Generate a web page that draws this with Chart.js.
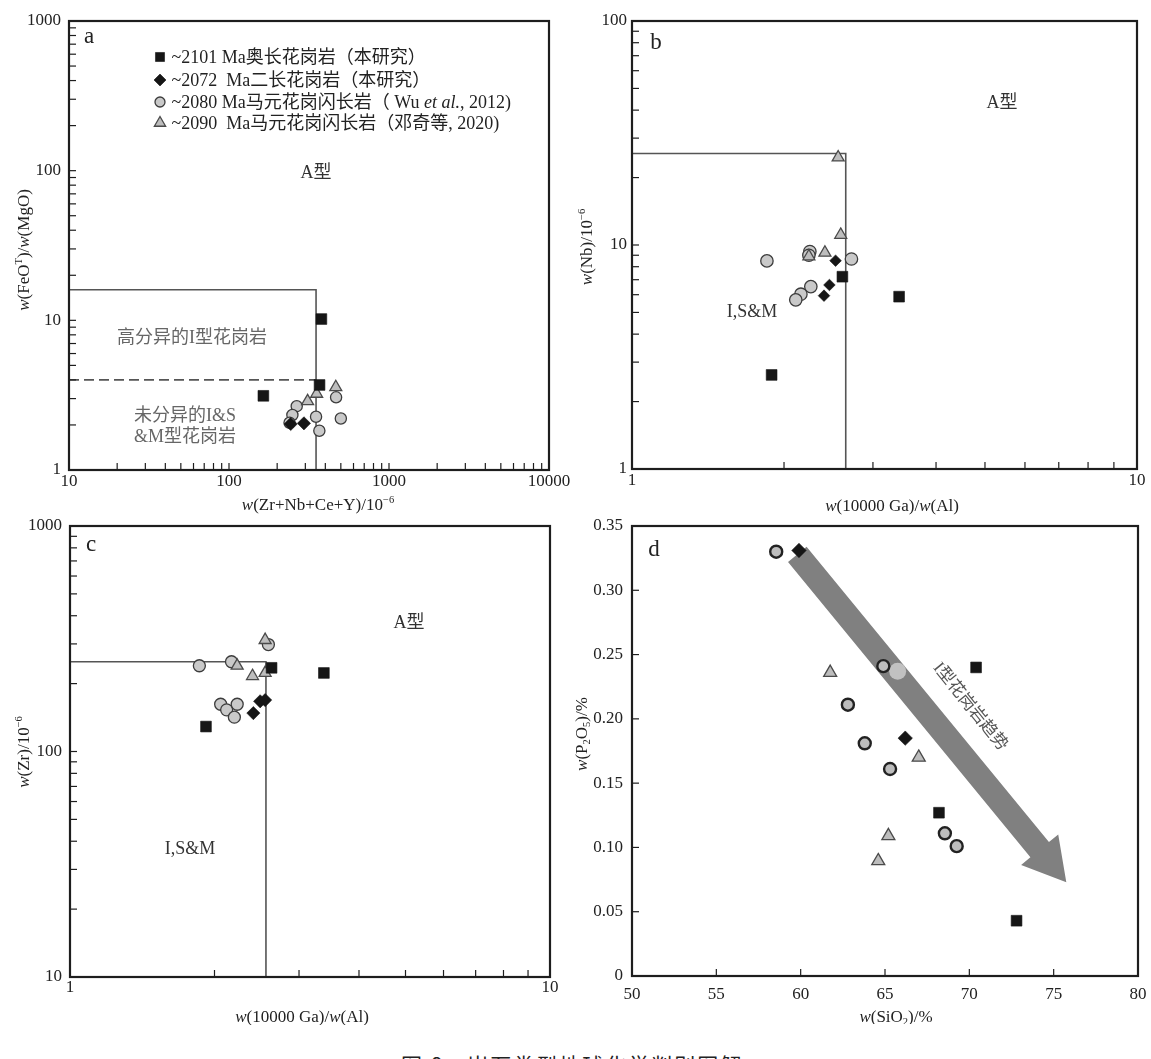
<!DOCTYPE html>
<html>
<head>
<meta charset="utf-8">
<script src="https://cdn.jsdelivr.net/npm/chart.js@4.4.1/dist/chart.umd.min.js"></script>
<style>
  html, body { margin: 0; padding: 0; background: #fff; width: 1151px; height: 1059px; overflow: hidden; }
  .panel { position: absolute; }
  #caption { position: absolute; left: 401px; top: 1054px; font: 21px 'Noto Sans CJK SC', sans-serif; line-height: 21px; letter-spacing: 2px; color: #222; white-space: pre; }
</style>
</head>
<body>
<div id="caption">图 8　岩石类型地球化学判别图解</div>
<script>
// ---- data ----
// a: w(Zr+Nb+Ce+Y) vs w(FeOT)/w(MgO)
const aSquares = [[378, 10.2], [368, 3.7], [164, 3.13]];
const aDiamonds = [[243, 2.03], [294, 2.05]];
const aCircles = [[265, 2.67], [249, 2.33], [239, 2.07], [350, 2.27], [367, 1.83], [467, 3.06], [500, 2.21]];
const aTriangles = [[465, 3.58], [353, 3.23], [310, 2.88]];
const aBox = [[10, 16], [350, 16], [350, 1]];
const aDash = [[10, 4], [350, 4]];
const aXLabels = [10, 100, 1000, 10000];
const aYLabels = [1, 10, 100, 1000];

// b: 10000Ga/Al vs Nb
const bSquares = [[2.61, 7.22], [3.38, 5.88], [1.89, 2.63]];
const bDiamonds = [[2.53, 8.51], [2.46, 6.63], [2.40, 5.94]];
const bCircles = [[1.85, 8.49], [2.25, 9.35], [2.24, 9.0], [2.72, 8.66], [2.26, 6.52], [2.16, 6.03], [2.11, 5.69]];
const bTriangles = [[2.56, 24.6], [2.59, 11.1], [2.24, 8.9], [2.41, 9.24]];
const bBox = [[1, 25.6], [2.65, 25.6], [2.65, 1]];
const bXLabels = [1, 10];
const bYLabels = [1, 10, 100];

// c: 10000Ga/Al vs Zr
const cSquares = [[2.63, 235], [3.38, 223], [1.92, 129]];
const cDiamonds = [[2.41, 148], [2.49, 167], [2.55, 169]];
const cCircles = [[2.59, 298], [1.86, 240], [2.17, 250], [2.06, 162], [2.12, 153], [2.23, 162], [2.20, 142]];
const cTriangles = [[2.55, 312], [2.23, 240], [2.40, 216], [2.55, 223]];
const cBox = [[1, 250], [2.56, 250], [2.56, 10]];
const cXLabels = [1, 10];
const cYLabels = [10, 100, 1000];

// d: SiO2 vs P2O5
const dSquares = [[70.4, 0.240], [68.2, 0.127], [72.8, 0.043]];
const dDiamonds = [[59.9, 0.331], [66.2, 0.185]];
const dCircles = [[58.55, 0.330], [64.9, 0.241], [62.8, 0.211], [63.8, 0.181], [65.3, 0.161], [68.55, 0.111], [69.25, 0.101]];
const dTriangles = [[61.75, 0.236], [67.0, 0.170], [65.2, 0.109], [64.6, 0.0895]];
const dFaint = [[65.75, 0.237]];
const dArrow = [[59.8, 0.328], [75.75, 0.073]];
const dXTicks = [50, 55, 60, 65, 70, 75, 80];
const dYTicks = [0, 0.05, 0.10, 0.15, 0.20, 0.25, 0.30, 0.35];

const legendRows = [
  { text: '~2101 Ma奥长花岗岩（本研究）', mark: 'sq' },
  { text: '~2072  Ma二长花岗岩（本研究）', mark: 'dm' },
  { text: '~2080 Ma马元花岗闪长岩（ Wu {i:et al.}, 2012)', mark: 'ci' },
  { text: '~2090  Ma马元花岗闪长岩（邓奇等, 2020)', mark: 'tr' }
];

// ---- styling ----
const SERIF = "'Liberation Serif', 'Noto Sans CJK SC', serif";
const YW = 62, PT = 24, XH = 48;

const STYLE = {
  sq: { pointStyle: 'rect', pointRadius: 7.6, backgroundColor: '#161616', borderColor: '#161616', borderWidth: 0.6 },
  dm: { pointStyle: 'rectRot', pointRadius: 6.6, backgroundColor: '#161616', borderColor: '#161616', borderWidth: 0.6 },
  ci: { pointStyle: 'circle', pointRadius: 5.8, backgroundColor: '#c9c9c9', borderColor: '#3c3c3c', borderWidth: 1.3 },
  tr: { pointStyle: 'triangle', pointRadius: 6.9, backgroundColor: '#bdbdbd', borderColor: '#4a4a4a', borderWidth: 1.3 }
};

const pts = arr => arr.map(([x, y]) => ({ x, y }));
const set = (data, style, extra) => Object.assign({ data: pts(data), showLine: false }, style, extra || {});
const line = (data, dash) => ({ data: pts(data), showLine: true, pointRadius: 0, borderColor: '#555', borderWidth: 1.6, borderDash: dash || [], fill: false, tension: 0 });

function logTicks(decades) {
  const out = [];
  for (let i = 0; i < decades.length; i++) {
    out.push(decades[i]);
    if (i < decades.length - 1) for (let k = 2; k <= 9; k++) out.push(decades[i] * k);
  }
  return out;
}

function logAxis(labels, pad, isX) {
  return {
    type: 'logarithmic', min: labels[0], max: labels[labels.length - 1],
    afterBuildTicks: ax => { ax.ticks = logTicks(labels).map(v => ({ value: v })); },
    afterFit: ax => { if (isX) ax.height = XH; else ax.width = YW; },
    grid: { display: false, drawTicks: false }, border: { display: false },
    ticks: { autoSkip: false, maxRotation: 0, minRotation: 0, padding: pad, color: '#222',
      font: { family: SERIF, size: 17 }, callback: v => labels.includes(v) ? String(v) : '' }
  };
}

function linAxis(ticks, lo, hi, pad, isX, fmt) {
  return {
    type: 'linear', min: lo, max: hi,
    afterBuildTicks: ax => { ax.ticks = ticks.map(v => ({ value: v })); },
    afterFit: ax => { if (isX) ax.height = XH; else ax.width = YW; },
    grid: { display: false, drawTicks: false }, border: { display: false },
    ticks: { autoSkip: false, maxRotation: 0, minRotation: 0, padding: pad, color: '#222',
      font: { family: SERIF, size: 17 }, callback: fmt }
  };
}

// ---- rich text (italic / sup / sub) ----
function parseRich(s) {
  const out = []; const re = /\{(i|sup|sub):([^}]*)\}/g; let last = 0, m;
  while ((m = re.exec(s))) {
    if (m.index > last) out.push({ t: s.slice(last, m.index), k: '' });
    out.push({ t: m[2], k: m[1] }); last = re.lastIndex;
  }
  if (last < s.length) out.push({ t: s.slice(last), k: '' });
  return out;
}
function segFont(k, size) {
  const sz = (k === 'sup' || k === 'sub') ? size * 0.62 : size;
  return (k === 'i' ? 'italic ' : '') + sz.toFixed(1) + 'px ' + SERIF;
}
function drawRich(ctx, it) {
  const size = it.size || 17, segs = parseRich(it.t);
  ctx.save();
  ctx.translate(it.x, it.y);
  if (it.rot) ctx.rotate(it.rot * Math.PI / 180);
  ctx.fillStyle = it.color || '#222'; ctx.textBaseline = 'alphabetic'; ctx.textAlign = 'left';
  let w = 0;
  segs.forEach(s => { ctx.font = segFont(s.k, size); s.w = ctx.measureText(s.t).width; w += s.w; });
  let x = it.align === 'left' ? 0 : -w / 2;
  const base = size * 0.34;
  segs.forEach(s => {
    ctx.font = segFont(s.k, size);
    const dy = s.k === 'sup' ? -size * 0.42 : s.k === 'sub' ? size * 0.2 : 0;
    ctx.fillText(s.t, x, base + dy); x += s.w;
  });
  ctx.restore();
}

function drawArrow(chart, a) {
  const xs = chart.scales.x, ys = chart.scales.y, ctx = chart.ctx;
  const x0 = xs.getPixelForValue(a[0][0]), y0 = ys.getPixelForValue(a[0][1]);
  const x1 = xs.getPixelForValue(a[1][0]), y1 = ys.getPixelForValue(a[1][1]);
  const ang = Math.atan2(y1 - y0, x1 - x0), len = Math.hypot(x1 - x0, y1 - y0);
  const sw = 12, hw = 24, hl = 42;
  ctx.save();
  ctx.translate(x0, y0); ctx.rotate(ang);
  ctx.beginPath();
  ctx.moveTo(0, -sw); ctx.lineTo(len - hl, -sw); ctx.lineTo(len - hl, -hw); ctx.lineTo(len, 0);
  ctx.lineTo(len - hl, hw); ctx.lineTo(len - hl, sw); ctx.lineTo(0, sw); ctx.closePath();
  ctx.fillStyle = '#808080'; ctx.fill();
  ctx.restore();
}

function drawLegend(ctx, L, T) {
  const rowsY = [57, 80, 102, 123];
  const sizes = { sq: 6.4, dm: 6, ci: 5, tr: 6.5 };
  legendRows.forEach((r, i) => {
    const st = STYLE[r.mark];
    ctx.save();
    ctx.fillStyle = st.backgroundColor; ctx.strokeStyle = st.borderColor; ctx.lineWidth = st.borderWidth;
    Chart.helpers.drawPoint(ctx, { pointStyle: st.pointStyle, radius: sizes[r.mark], rotation: 0, borderWidth: st.borderWidth }, 160 - L, rowsY[i] - T);
    ctx.restore();
    drawRich(ctx, { t: r.text, x: 171.5 - L, y: rowsY[i] - T, size: 18, align: 'left' });
  });
}

function decorPlugin(p, L, T) {
  return {
    id: 'decor' + p.id,
    beforeDatasetsDraw(chart) { if (p.arrow) drawArrow(chart, p.arrow); },
    afterDraw(chart) {
      const ctx = chart.ctx, ca = chart.chartArea, xs = chart.scales.x, ys = chart.scales.y;
      ctx.save();
      ctx.strokeStyle = '#1e1e1e'; ctx.lineWidth = 1.2;
      xs.ticks.forEach(t => {
        const px = xs.getPixelForValue(t.value);
        ctx.beginPath(); ctx.moveTo(px, ca.bottom); ctx.lineTo(px, ca.bottom - 7); ctx.stroke();
      });
      ys.ticks.forEach(t => {
        const py = ys.getPixelForValue(t.value);
        ctx.beginPath(); ctx.moveTo(ca.left, py); ctx.lineTo(ca.left + 7, py); ctx.stroke();
      });
      ctx.lineWidth = 2.2;
      ctx.strokeRect(ca.left, ca.top, ca.right - ca.left, ca.bottom - ca.top);
      ctx.restore();
      p.texts.forEach(it => drawRich(ctx, Object.assign({}, it, { x: it.x - L, y: it.y - T })));
      if (p.legend) drawLegend(ctx, L, T);
    }
  };
}

function makePanel(p) {
  const L = p.area[0] - YW, T = p.area[1] - PT;
  const W = p.area[2] - p.area[0] + YW + p.padRight, H = p.area[3] - p.area[1] + PT + XH;
  const box = document.createElement('div');
  box.className = 'panel';
  Object.assign(box.style, { left: L + 'px', top: T + 'px', width: W + 'px', height: H + 'px' });
  const cv = document.createElement('canvas');
  box.appendChild(cv);
  document.body.appendChild(box);
  new Chart(cv, {
    type: 'scatter',
    data: { datasets: p.datasets },
    options: {
      responsive: true, maintainAspectRatio: false, animation: false, events: [],
      layout: { padding: { top: PT, right: p.padRight, left: 0, bottom: 0 } },
      plugins: { legend: { display: false }, tooltip: { enabled: false } },
      scales: { x: p.x, y: p.y }
    },
    plugins: [decorPlugin(p, L, T)]
  });
}

// ---- panels ----
makePanel({
  id: 'a', area: [69, 21, 549, 470], padRight: 30, legend: true,
  x: logAxis(aXLabels, 1, true), y: logAxis(aYLabels, 8, false),
  datasets: [
    set(aSquares, STYLE.sq), set(aDiamonds, STYLE.dm), set(aTriangles, STYLE.tr), set(aCircles, STYLE.ci, { pointRadius: 5.6 }),
    line(aBox), line(aDash, [10, 5])
  ],
  texts: [
    { t: 'a', x: 89, y: 35, size: 23 },
    { t: 'A型', x: 316, y: 172, size: 18, color: '#333' },
    { t: '高分异的I型花岗岩', x: 192, y: 337, size: 18, color: '#666' },
    { t: '未分异的I&S', x: 185, y: 415, size: 18, color: '#666' },
    { t: '&M型花岗岩', x: 185, y: 436, size: 18, color: '#666' },
    { t: '{i:w}(Zr+Nb+Ce+Y)/10{sup:−6}', x: 318, y: 504, size: 17 },
    { t: '{i:w}(FeO{sup:T})/{i:w}(MgO)', x: 23, y: 250, size: 17, rot: -90 }
  ]
});

makePanel({
  id: 'b', area: [632, 21, 1137, 469], padRight: 16,
  x: logAxis(bXLabels, 1, true), y: logAxis(bYLabels, 5, false),
  datasets: [
    set(bSquares, STYLE.sq), set(bDiamonds, STYLE.dm, { pointRadius: 5.8 }), set(bTriangles, STYLE.tr), set(bCircles, STYLE.ci, { pointRadius: 6.2 }),
    line(bBox)
  ],
  texts: [
    { t: 'b', x: 656, y: 41, size: 23 },
    { t: 'A型', x: 1002, y: 102, size: 18, color: '#333' },
    { t: 'I,S&M', x: 752, y: 311, size: 18, color: '#333' },
    { t: '{i:w}(10000 Ga)/{i:w}(Al)', x: 892, y: 505, size: 17 },
    { t: '{i:w}(Nb)/10{sup:−6}', x: 586, y: 247, size: 17, rot: -90 }
  ]
});

makePanel({
  id: 'c', area: [70, 526, 550, 977], padRight: 30,
  x: logAxis(cXLabels, 0, true), y: logAxis(cYLabels, 8, false),
  datasets: [
    set(cSquares, STYLE.sq), set(cDiamonds, STYLE.dm), set(cTriangles, STYLE.tr), set(cCircles, STYLE.ci, { pointRadius: 6 }),
    line(cBox)
  ],
  texts: [
    { t: 'c', x: 91, y: 543, size: 23 },
    { t: 'A型', x: 409, y: 622, size: 18, color: '#333' },
    { t: 'I,S&M', x: 190, y: 848, size: 18, color: '#333' },
    { t: '{i:w}(10000 Ga)/{i:w}(Al)', x: 302, y: 1016, size: 17 },
    { t: '{i:w}(Zr)/10{sup:−6}', x: 23, y: 752, size: 17, rot: -90 }
  ]
});

makePanel({
  id: 'd', area: [632, 526, 1138, 976], padRight: 24, arrow: dArrow,
  x: linAxis(dXTicks, 50, 80, 8, true, v => String(v)),
  y: linAxis(dYTicks, 0, 0.35, 9, false, v => v === 0 ? '0' : v.toFixed(2)),
  datasets: [
    set(dSquares, STYLE.sq), set(dDiamonds, STYLE.dm, { pointRadius: 7.2 }),
    set(dTriangles, STYLE.tr, { pointRadius: 7.5 }),
    set(dCircles, STYLE.ci, { pointRadius: 6, borderWidth: 2.4, borderColor: '#222', backgroundColor: '#bdbdbd' }),
    set(dFaint, { pointStyle: 'circle', pointRadius: 8.5, backgroundColor: 'rgba(200,200,200,0.9)', borderWidth: 0 })
  ],
  texts: [
    { t: 'd', x: 654, y: 548, size: 23 },
    { t: 'I型花岗岩趋势', x: 971, y: 706, size: 17, color: '#555', rot: 51 },
    { t: '{i:w}(SiO{sub:2})/%', x: 896, y: 1016, size: 17 },
    { t: '{i:w}(P{sub:2}O{sub:5})/%', x: 581, y: 734, size: 17, rot: -90 }
  ]
});
</script>
</body>
</html>
